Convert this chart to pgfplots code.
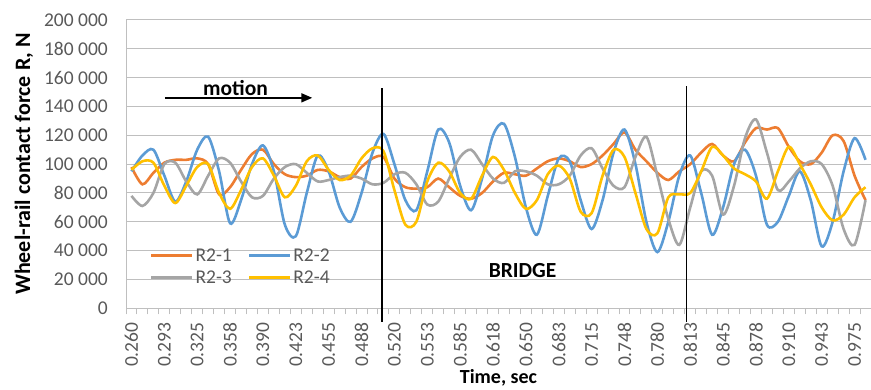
\documentclass[border=0pt]{standalone}
\usepackage{pgfplots}
\pgfplotsset{compat=1.18}
\usepackage{pgfplotstable}
\usepackage{fontspec}
\setmainfont{Carlito}
\usetikzlibrary{arrows.meta}
\definecolor{cO}{HTML}{ED7D31}
\definecolor{cB}{HTML}{5B9BD5}
\definecolor{cG}{HTML}{A5A5A5}
\definecolor{cY}{HTML}{FFC000}
\definecolor{gridc}{HTML}{BFBFBF}
\definecolor{tickc}{HTML}{595959}

\pgfplotstableread{
idx R1 R2 R3 R4
0 98000 95000 78000 96000
1 86000 106000 71000 102000
2 94000 110000 80000 101000
3 101000 92000 100000 85000
4 103000 74000 101000 73000
5 103000 88000 88000 85000
6 104000 110000 79000 98000
7 100000 119000 92000 100000
8 79000 95000 104000 80000
9 84000 59000 101000 69000
10 96000 75000 88000 82000
11 107000 100000 77000 98000
12 110000 113000 78000 104000
13 100000 95000 90000 92000
14 93000 58000 98000 77000
15 91000 50000 100000 85000
16 92000 80000 94000 102000
17 96000 106000 88000 106000
18 95000 95000 89000 96000
19 91000 70000 91000 89000
20 90000 60000 92000 92000
21 98000 80000 90000 104000
22 104000 108000 86000 111000
23 105000 121000 87000 109000
24 90000 100000 93000 82000
25 84000 75000 94000 58000
26 83000 68000 86000 60000
27 84000 95000 72000 88000
28 90000 124000 74000 101000
29 84000 115000 90000 95000
30 78000 85000 105000 80000
31 76000 68000 110000 76000
32 80000 90000 100000 92000
33 88000 120000 90000 105000
34 94000 128000 87000 96000
35 93000 105000 95000 80000
36 92000 70000 95000 69000
37 97000 51000 92000 75000
38 102000 78000 86000 93000
39 104000 104000 86000 99000
40 102000 102000 92000 90000
41 98000 75000 106000 67000
42 100000 55000 111000 66000
43 106000 75000 97000 92000
44 114000 108000 85000 110000
45 122000 124000 84000 105000
46 110000 100000 105000 80000
47 102000 60000 119000 55000
48 94000 39000 92000 52000
49 89000 60000 62000 77000
50 95000 92000 44000 79000
51 100000 106000 70000 80000
52 108000 80000 95000 95000
53 114000 51000 92000 112000
54 106000 70000 65000 106000
55 102000 100000 85000 97000
56 115000 110000 118000 93000
57 125000 92000 131000 88000
58 124000 58000 108000 76000
59 125000 60000 82000 95000
60 112000 78000 88000 112000
61 102000 95000 97000 100000
62 100000 75000 102000 86000
63 108000 43000 100000 70000
64 120000 60000 85000 61000
65 116000 95000 55000 65000
66 92000 118000 44000 77000
67 75000 103000 75000 84000
}\data

\begin{document}
\begin{tikzpicture}
\begin{axis}[
  at={(126pt,81.7pt)}, anchor=south west,
  scale only axis, width=745pt, height=288.3pt,
  xmin=-0.5, xmax=67.5, ymin=0, ymax=200000,
  scaled y ticks=false,
  clip=false,
  axis x line*=bottom, axis y line*=left,
  axis line style={draw=gridc, line width=1pt},
  ytick={0,20000,40000,60000,80000,100000,120000,140000,160000,180000,200000},
  yticklabels={0,20 000,40 000,60 000,80 000,100 000,120 000,140 000,160 000,180 000,200 000},
  ymajorgrids, major grid style={draw=gridc, line width=1pt},
  xtick={0,3,...,66},
  xticklabels={0.260,0.293,0.325,0.358,0.390,0.423,0.455,0.488,0.520,0.553,0.585,0.618,0.650,0.683,0.715,0.748,0.780,0.813,0.845,0.878,0.910,0.943,0.975},
  minor xtick={-0.5,0.5,...,67.5},
  major tick length=0pt, minor tick length=6pt, tick align=outside,
  every tick/.style={draw=gridc, line width=1pt},
  tick label style={font=\fontsize{19.5}{23}\selectfont, text=tickc},
  yticklabel style={anchor=east, inner sep=0pt},
  yticklabel shift=18pt,
  xticklabel style={rotate=90, anchor=east, inner sep=0pt},
  xticklabel shift=14pt,
  xlabel={Time, sec},
  xlabel style={at={(rel axis cs:0.5,0)}, anchor=north, yshift=-61pt, inner sep=0pt, font=\bfseries\fontsize{20}{24}\selectfont},
  ylabel={Wheel-rail contact force R, N},
  ylabel style={at={(rel axis cs:-0.1369,0.5)}, anchor=center, inner sep=0pt, font=\bfseries\fontsize{22}{26}\selectfont},
  legend columns=2,
  legend style={draw=none, fill=none, at={(rel axis cs:0.032,0.215)}, anchor=north west, inner sep=0pt,
    font=\fontsize{19.5}{23}\selectfont, text=tickc, nodes={inner sep=2pt},
    /tikz/every even column/.append style={column sep=14pt}, row sep=4pt},
  legend image code/.code={\draw[#1, line width=2.5pt] (0pt,0pt) -- (41pt,0pt);},
  legend cell align=left,
]
\addplot[cO, line width=2.6pt, smooth, tension=0.5] table[x=idx, y=R1] {\data};
\addlegendentry{R2-1}
\addplot[cB, line width=2.6pt, smooth, tension=0.5] table[x=idx, y=R2] {\data};
\addlegendentry{R2-2}
\addplot[cG, line width=2.6pt, smooth, tension=0.5] table[x=idx, y=R3] {\data};
\addlegendentry{R2-3}
\addplot[cY, line width=2.6pt, smooth, tension=0.5] table[x=idx, y=R4] {\data};
\addlegendentry{R2-4}
\addplot[black, line width=1.6pt, forget plot] coordinates {(22.85,-9500) (22.85,152800)};
\addplot[black, line width=1.6pt, forget plot] coordinates {(50.67,-9500) (50.67,154000)};
\draw[-{Triangle[length=11pt,width=9pt]}, line width=1.8pt] (axis cs:3.05,146000) -- (axis cs:16.5,146000);
\node[anchor=base, inner sep=0pt, font=\bfseries\fontsize{21.5}{25}\selectfont] at (axis cs:9.5,147500) {motion};
\node[anchor=base, inner sep=0pt, font=\bfseries\fontsize{21.5}{25}\selectfont] at (axis cs:35.7,21700) {BRIDGE};
\end{axis}
\pgfresetboundingbox
\path[use as bounding box] (0pt,0pt) rectangle (871pt,390pt);
\end{tikzpicture}
\end{document}
